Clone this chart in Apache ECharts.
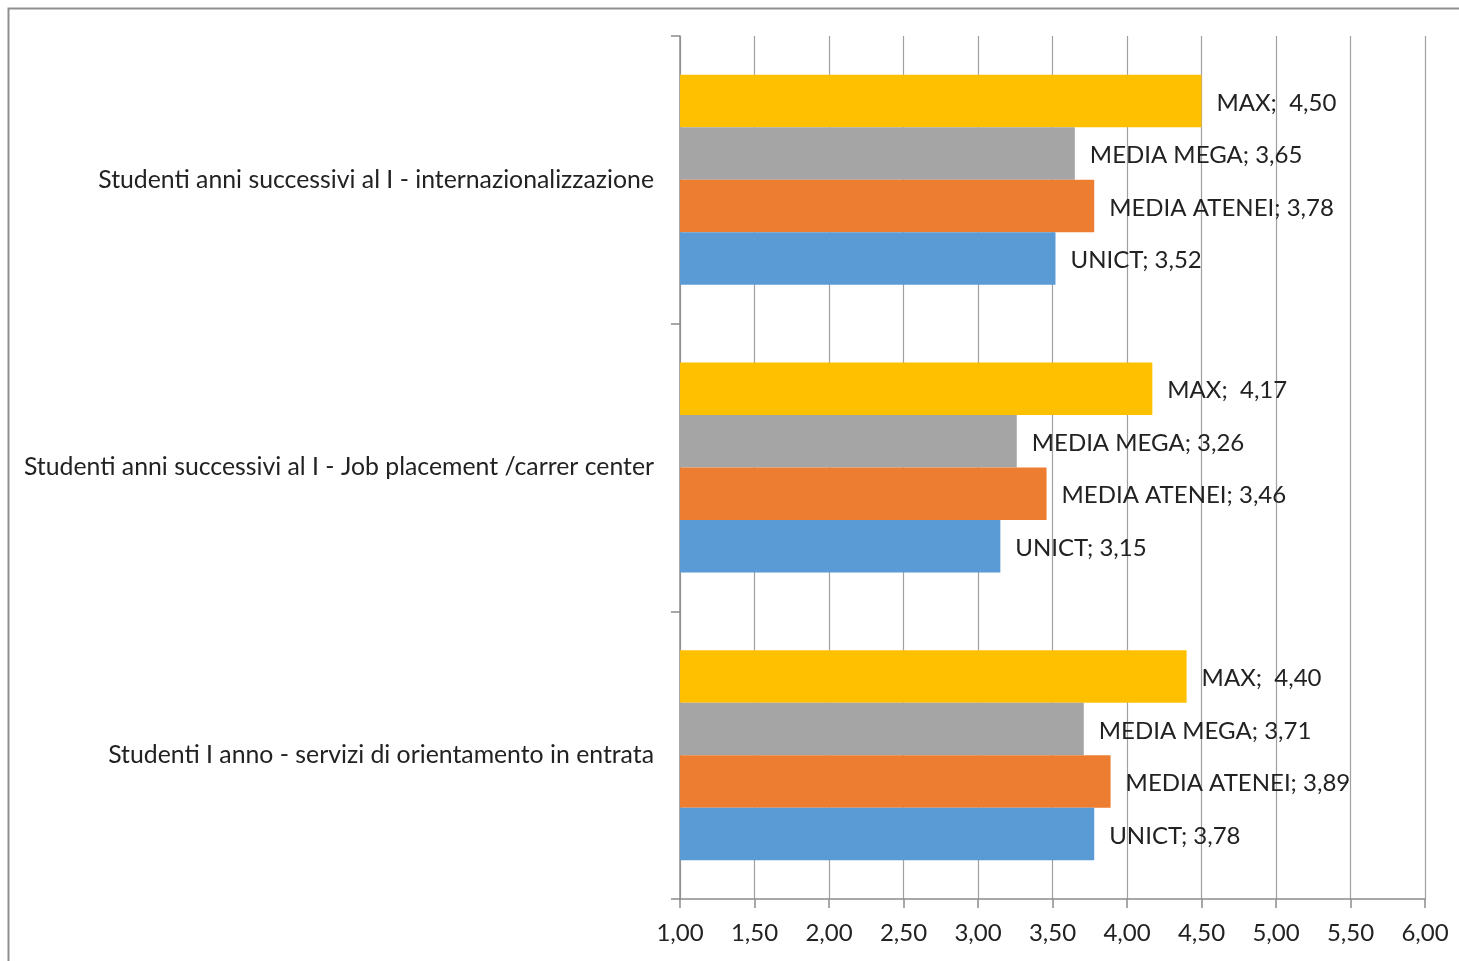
<!DOCTYPE html>
<html>
<head>
<meta charset="utf-8">
<script src="https://cdn.jsdelivr.net/npm/echarts@6/dist/echarts.min.js"></script>
<style>
  html, body { margin: 0; padding: 0; background: #fff; }
  #chart { width: 1459px; height: 961px; }
</style>
</head>
<body>
<div id="chart"></div>
<script>
// Survey categories, listed bottom to top along the y axis
const categories = [
  'Studenti I anno - servizi di orientamento in entrata',
  'Studenti anni successivi al I - Job placement /carrer center',
  'Studenti anni successivi al I - internazionalizzazione'
];

// Average scores per series (same order as categories)
const maxValues    = [4.40, 4.17, 4.50];
const megaValues   = [3.71, 3.26, 3.65];
const ateneiValues = [3.89, 3.46, 3.78];
const unictValues  = [3.78, 3.15, 3.52];

// Value axis range and step
const axisMin = 1.0;
const axisMax = 6.0;
const axisStep = 0.5;

const seriesDefs = [
  { name: 'MAX',          sep: ';  ', data: maxValues,    color: '#FFC000' },
  { name: 'MEDIA MEGA',   sep: '; ',  data: megaValues,   color: '#A5A5A5' },
  { name: 'MEDIA ATENEI', sep: '; ',  data: ateneiValues, color: '#ED7D31' },
  { name: 'UNICT',        sep: '; ',  data: unictValues,  color: '#5B9BD5' }
];

const fontFamily = 'Lato, "Open Sans", sans-serif';
const fmt = v => v.toFixed(2).replace('.', ',');

const chart = echarts.init(document.getElementById('chart'), null, { renderer: 'canvas' });

chart.setOption({
  animation: false,
  backgroundColor: '#ffffff',
  textStyle: { fontFamily: fontFamily },
  graphic: [{
    type: 'rect',
    left: 6, top: 6,
    shape: { x: 0, y: 0, width: 1500, height: 1000 },
    style: { fill: 'none', stroke: '#8f8f8f', lineWidth: 2 },
    silent: true
  }],
  grid: { left: 680, right: 34, top: 36, bottom: 62 },
  xAxis: {
    type: 'value',
    min: axisMin,
    max: axisMax,
    interval: axisStep,
    axisLine: { show: true, lineStyle: { color: '#8c8c8c', width: 1.5 } },
    axisTick: { show: true, length: 9, lineStyle: { color: '#8c8c8c', width: 1.5 } },
    axisLabel: {
      margin: 22,
      color: '#222',
      fontSize: 24,
      fontFamily: fontFamily,
      formatter: v => fmt(v)
    },
    splitLine: { show: true, lineStyle: { color: '#a0a0a0', width: 1.2 } }
  },
  yAxis: {
    type: 'category',
    data: categories,
    axisLine: { show: true, lineStyle: { color: '#8c8c8c', width: 1.5 } },
    axisTick: { show: true, length: 9, lineStyle: { color: '#8c8c8c', width: 1.5 } },
    axisLabel: {
      margin: 26,
      color: '#222',
      fontSize: 24.8,
      fontFamily: fontFamily
    },
    splitLine: { show: false }
  },
  series: seriesDefs.map(s => ({
    name: s.name,
    type: 'bar',
    data: s.data,
    barGap: '0%',
    barCategoryGap: '27%',
    itemStyle: { color: s.color },
    label: {
      show: true,
      position: 'right',
      distance: 15,
      offset: [0, 2],
      color: '#222',
      fontSize: 24,
      fontFamily: fontFamily,
      formatter: p => s.name + s.sep + fmt(p.value)
    }
  }))
});
</script>
</body>
</html>
